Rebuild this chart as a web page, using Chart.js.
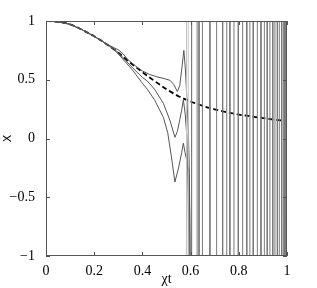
<!DOCTYPE html>
<html>
<head>
<meta charset="utf-8">
<script src="https://cdn.jsdelivr.net/npm/chart.js@4"></script>
<style>
  html, body { margin: 0; padding: 0; background: #fff; }
  canvas { display: block; }
</style>
</head>
<body>
<canvas id="c" width="317" height="288" style="width:317px;height:288px"></canvas>
<script>
// tick labels
const xTicks = [0, 0.2, 0.4, 0.6, 0.8, 1];
const yTicks = [-1, -0.5, 0, 0.5, 1];

// dashed reference curve
const xDash = [0, 0.05, 0.1, 0.15, 0.2, 0.25, 0.3, 0.35, 0.4, 0.45, 0.5, 0.55, 0.6, 0.65, 0.7, 0.75, 0.8, 0.85, 0.9, 0.95, 1];
const yDash = [1, 0.993, 0.972, 0.925, 0.87, 0.805, 0.73, 0.645, 0.565, 0.49, 0.42, 0.36, 0.315, 0.278, 0.248, 0.224, 0.204, 0.188, 0.174, 0.16, 0.148];

// three solid curves
const xA = [0, 0.05, 0.1, 0.15, 0.2, 0.25, 0.28, 0.3, 0.32, 0.34, 0.37, 0.4, 0.43, 0.46, 0.49, 0.515, 0.53, 0.545, 0.555, 0.565, 0.572, 0.578, 0.585, 0.59, 0.595, 0.6];
const yA = [1, 0.993, 0.972, 0.925, 0.87, 0.805, 0.775, 0.755, 0.72, 0.67, 0.62, 0.575, 0.545, 0.525, 0.51, 0.495, 0.46, 0.40, 0.45, 0.62, 0.75, 0.6, 0.32, 0.1, -0.3, -1.5];

const xB = [0, 0.05, 0.1, 0.15, 0.2, 0.25, 0.28, 0.3, 0.33, 0.36, 0.4, 0.42, 0.45, 0.487, 0.515, 0.535, 0.545, 0.555, 0.563, 0.57, 0.578, 0.585, 0.59, 0.595];
const yB = [1, 0.993, 0.972, 0.925, 0.87, 0.805, 0.765, 0.73, 0.665, 0.6, 0.52, 0.49, 0.42, 0.3, 0.15, 0.01, 0.06, 0.16, 0.24, 0.33, 0.2, 0.0, -0.5, -1.5];

const xC = [0, 0.05, 0.1, 0.15, 0.2, 0.25, 0.28, 0.3, 0.33, 0.36, 0.4, 0.42, 0.45, 0.487, 0.505, 0.52, 0.535, 0.55, 0.563, 0.57, 0.577, 0.585, 0.592, 0.596, 0.6];
const yC = [1, 0.993, 0.972, 0.925, 0.87, 0.805, 0.76, 0.72, 0.65, 0.58, 0.47, 0.42, 0.33, 0.18, 0.05, -0.15, -0.37, -0.25, -0.12, -0.04, -0.12, -0.2, -0.27, -0.6, -1.5];

// positions where the solutions blow up (vertical lines)
const blowXLight = [0.583, 0.59];
const blowX = [0.604, 0.627, 0.635, 0.649, 0.68, 0.708, 0.733, 0.75, 0.763, 0.78, 0.798, 0.816, 0.833, 0.846, 0.86, 0.877, 0.892, 0.906, 0.918, 0.929, 0.941, 0.95, 0.96, 0.968, 0.978, 0.985, 0.99, 0.994, 0.997, 0.999];
const blowY = 5;

const pts = (xs, ys) => xs.map((x, i) => ({ x: x, y: ys[i] }));

// staircase going up and down off the plot at each blow-up position
const stair = xs => {
  const out = [];
  xs.forEach((x, i) => {
    const s = i % 2 === 0 ? 1 : -1;
    out.push({ x: x, y: s * blowY });
    out.push({ x: x, y: -s * blowY });
  });
  return out;
};

const frame = {
  id: 'frame',
  afterDatasetsDraw(chart) {
    const { ctx, chartArea: a, scales } = chart;
    ctx.save();
    ctx.strokeStyle = '#555';
    ctx.lineWidth = 1;
    ctx.beginPath();
    ctx.rect(Math.round(a.left) + 0.5, Math.round(a.top) + 0.5, Math.round(a.right - a.left) - 1, Math.round(a.bottom - a.top) - 1);
    xTicks.forEach(v => {
      const p = Math.round(scales.x.getPixelForValue(v)) + 0.5;
      ctx.moveTo(p, a.bottom); ctx.lineTo(p, a.bottom - 4);
      ctx.moveTo(p, a.top); ctx.lineTo(p, a.top + 4);
    });
    yTicks.forEach(v => {
      const p = Math.round(scales.y.getPixelForValue(v)) + 0.5;
      ctx.moveTo(a.left, p); ctx.lineTo(a.left + 4, p);
      ctx.moveTo(a.right, p); ctx.lineTo(a.right - 4, p);
    });
    ctx.stroke();
    ctx.restore();
  }
};

const fmt = v => String(v).replace('-', '\u2212');
const serif = "'Liberation Serif', 'Times New Roman', serif";

new Chart(document.getElementById('c'), {
  type: 'line',
  data: {
    datasets: [
      { data: stair(blowXLight), borderColor: '#c4c4c4', borderWidth: 1 },
      { data: stair(blowX), borderColor: '#7a7a7a', borderWidth: 1 },
      { data: pts(xA, yA), borderColor: '#555', borderWidth: 1 },
      { data: pts(xB, yB), borderColor: '#555', borderWidth: 1 },
      { data: pts(xC, yC), borderColor: '#555', borderWidth: 1 },
      { data: pts(xDash, yDash), borderColor: '#000', borderWidth: 1.8, borderDash: [5, 3], cubicInterpolationMode: 'monotone', tension: 0.4 }
    ]
  },
  options: {
    responsive: false,
    animation: false,
    events: [],
    elements: { point: { radius: 0 }, line: { tension: 0 } },
    layout: { padding: { top: 21, right: 30, left: 0, bottom: 0 } },
    plugins: { legend: { display: false }, tooltip: { enabled: false } },
    scales: {
      x: {
        type: 'linear', min: 0, max: 1,
        afterBuildTicks: s => { s.ticks = xTicks.map(v => ({ value: v })); },
        afterFit: s => { s.height = 32; },
        grid: { display: false },
        border: { display: false },
        ticks: { color: '#000', padding: -1, maxRotation: 0, font: { family: serif, size: 14 }, callback: v => fmt(v) },
        title: { display: true, text: 'χt', color: '#000', padding: { top: 0, bottom: 0 }, font: { family: serif, size: 14 } }
      },
      y: {
        type: 'linear', min: -1, max: 1,
        afterBuildTicks: s => { s.ticks = yTicks.map(v => ({ value: v })); },
        afterFit: s => { s.width = 46; },
        grid: { display: false },
        border: { display: false },
        ticks: { color: '#000', padding: 3, font: { family: serif, size: 14 }, callback: v => fmt(v) },
        title: { display: true, text: 'X', color: '#000', padding: { top: 2, bottom: 0 }, font: { family: 'DejaVu Sans', size: 11 } }
      }
    }
  },
  plugins: [frame]
});
</script>
</body>
</html>
